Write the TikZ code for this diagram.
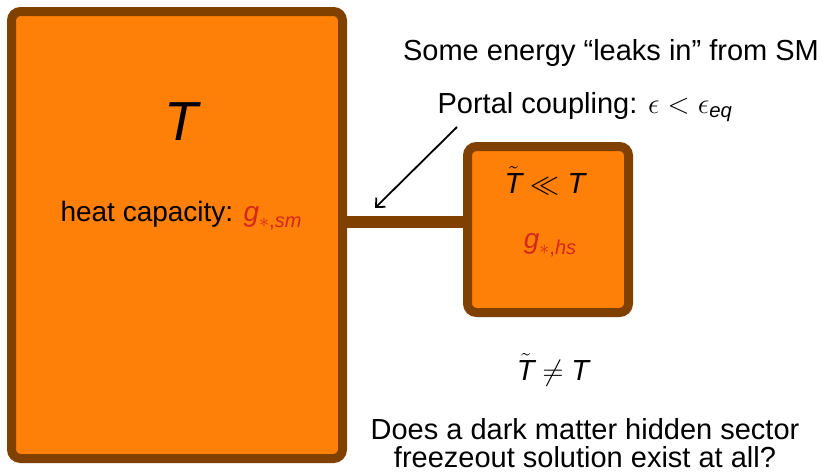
\RequirePackage{fix-cm}
\documentclass[tikz,border=0pt]{standalone}
\usepackage{amsmath}
\usepackage{fontspec}
\setmainfont{Liberation Sans}
\usetikzlibrary{arrows.meta}

\definecolor{boxfill}{RGB}{255,128,8}
\definecolor{boxedge}{RGB}{128,64,0}
\definecolor{dof}{RGB}{212,40,28}

\newcommand{\vT}{\textit{T}}
\newcommand{\tT}{\tilde{\textit{T}}}
\newcommand{\dofsub}[1]{\raisebox{-6pt}{\fontsize{20}{20}\selectfont$*$,\textit{#1}}}

\tikzset{
  sector/.style={draw=boxedge, fill=boxfill, line width=9pt, rounded corners=9pt},
  bar/.style={draw=boxedge, line width=12pt},
  txt/.style={font=\fontsize{29}{28}\selectfont, anchor=base, inner sep=0pt},
  lab/.style={font=\fontsize{28}{30}\selectfont, anchor=base, inner sep=0pt},
}

\begin{document}
\begin{tikzpicture}[x=1pt, y=-1pt, >={Straight Barb[length=7pt, width=13pt]}]
    \useasboundingbox (0,0) rectangle (823,472);

    % visible sector and hidden sector
    \node[sector, minimum width=331pt, minimum height=447pt] (sm) at (177,235) {};
    \node[sector, minimum width=161pt, minimum height=166pt] (hs) at (548,229.5) {};

    \draw[bar] ([yshift=8pt]hs.west) -- ([yshift=8pt]hs.west -| sm.east);

    \node[font=\fontsize{55}{60}\selectfont, anchor=base, inner sep=0pt] (tsm) at (183,140) {\vT};
    \node[lab] (gsm) at (181,221) {heat capacity: \textcolor{dof}{\textit{g}\dofsub{sm}}};

    \node[txt] (ths) at (545,193) {$\tT \ll \vT$};
    \node[lab, text=dof] (ghs) at (550,248) {\textit{g}\dofsub{hs}};

    % portal
    \node[txt] (leak) at (611,60) {Some energy “leaks in” from SM};
    \node[txt] (portal) at (585,113) {Portal coupling: $\epsilon < \epsilon_{\textit{eq}}$};
    \coordinate (tail) at (457,127);
    \coordinate (head) at (375,208);
    \draw[->, line width=1.8pt] (tail) -- (head);

    \node[txt] (neq) at (553,380) {$\tT \neq \vT$};
    \node[txt, align=center] (quest) at (585,467) {Does a dark matter hidden sector\\ freezeout solution exist at all?};
\end{tikzpicture}
\end{document}
